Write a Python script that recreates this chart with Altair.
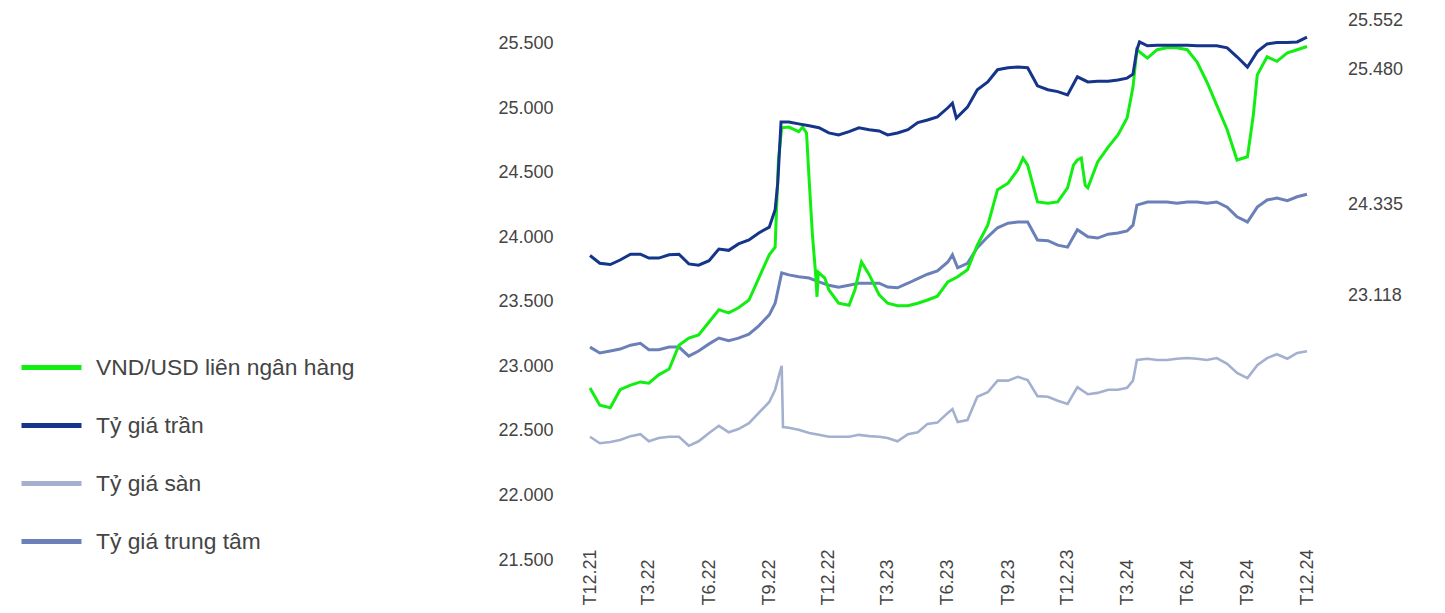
import altair as alt
import pandas as pd

# ---------------- data ----------------
SERIES = ["VND/USD liên ngân hàng", "Tỷ giá trần", "Tỷ giá sàn", "Tỷ giá trung tâm"]
COLORS = ["#12ee12", "#15358a", "#a3b0cf", "#6b80b8"]

Y_TICKS = [21500, 22000, 22500, 23000, 23500, 24000, 24500, 25000, 25500]
X_TICKS = [(2021, 12), (2022, 3), (2022, 6), (2022, 9), (2022, 12), (2023, 3), (2023, 6),
           (2023, 9), (2023, 12), (2024, 3), (2024, 6), (2024, 9), (2024, 12)]

ceil_dates = ["2021-12-01", "2021-12-16", "2022-01-01", "2022-01-16", "2022-02-01", "2022-02-16",
              "2022-03-01", "2022-03-16", "2022-04-01", "2022-04-16", "2022-05-01", "2022-05-16",
              "2022-06-01", "2022-06-16", "2022-07-01", "2022-07-16", "2022-08-01", "2022-08-16",
              "2022-09-01", "2022-09-10", "2022-09-14", "2022-09-19", "2022-10-01", "2022-10-16",
              "2022-11-01", "2022-11-16", "2022-12-01", "2022-12-16", "2023-01-01", "2023-01-16",
              "2023-02-01", "2023-02-16", "2023-03-01", "2023-03-16", "2023-04-01", "2023-04-16",
              "2023-05-01", "2023-05-16", "2023-06-01", "2023-06-08", "2023-06-14", "2023-07-01",
              "2023-07-16", "2023-08-01", "2023-08-16", "2023-09-01", "2023-09-16", "2023-10-01",
              "2023-10-16", "2023-11-01", "2023-11-16", "2023-12-01", "2023-12-16", "2024-01-01",
              "2024-01-16", "2024-02-01", "2024-02-16", "2024-03-01", "2024-03-10", "2024-03-16",
              "2024-03-20", "2024-04-01", "2024-04-16", "2024-05-01", "2024-05-16", "2024-06-01",
              "2024-06-16", "2024-07-01", "2024-07-16", "2024-08-01", "2024-08-16", "2024-09-01",
              "2024-09-16", "2024-10-01", "2024-10-16", "2024-11-01", "2024-11-16", "2024-12-01"]
ceil_values = [23860, 23800, 23790, 23825, 23870, 23870, 23840, 23840, 23865, 23870, 23795, 23785,
               23820, 23910, 23900, 23950, 23980, 24035, 24080, 24215, 24420, 24895, 24895, 24880,
               24865, 24850, 24810, 24795, 24820, 24850, 24835, 24825, 24795, 24810, 24835, 24890,
               24910, 24935, 25005, 25040, 24925, 25010, 25145, 25205, 25300, 25315, 25320, 25315,
               25175, 25145, 25130, 25105, 25245, 25205, 25210, 25210, 25220, 25235, 25265, 25455,
               25515, 25485, 25490, 25490, 25490, 25490, 25485, 25485, 25485, 25470, 25400, 25320,
               25440, 25500, 25510, 25510, 25515, 25552]

inter_dates = ["2021-12-01", "2021-12-16", "2022-01-01", "2022-01-16", "2022-02-01", "2022-02-16",
               "2022-03-01", "2022-03-16", "2022-04-01", "2022-04-16", "2022-05-01", "2022-05-16",
               "2022-06-01", "2022-06-16", "2022-07-01", "2022-07-16", "2022-08-01", "2022-08-16",
               "2022-09-01", "2022-09-10", "2022-09-15", "2022-09-20", "2022-10-01", "2022-10-16",
               "2022-10-22", "2022-10-28", "2022-11-01", "2022-11-06", "2022-11-11", "2022-11-13",
               "2022-11-15", "2022-11-25", "2022-12-01", "2022-12-16", "2023-01-01", "2023-01-10",
               "2023-01-20", "2023-02-01", "2023-02-16", "2023-03-01", "2023-03-16", "2023-04-01",
               "2023-04-16", "2023-05-01", "2023-05-16", "2023-06-01", "2023-06-16", "2023-07-01",
               "2023-07-16", "2023-08-01", "2023-08-16", "2023-09-01", "2023-09-16", "2023-09-24",
               "2023-10-01", "2023-10-16", "2023-11-01", "2023-11-16", "2023-12-01", "2023-12-10",
               "2023-12-16", "2023-12-22", "2023-12-28", "2024-01-01", "2024-01-16", "2024-02-01",
               "2024-02-16", "2024-03-01", "2024-03-10", "2024-03-16", "2024-04-01", "2024-04-16",
               "2024-05-01", "2024-05-16", "2024-06-01", "2024-06-16", "2024-07-01", "2024-07-16",
               "2024-08-01", "2024-08-16", "2024-09-01", "2024-09-10", "2024-09-16", "2024-10-01",
               "2024-10-16", "2024-11-01", "2024-11-16", "2024-12-01"]
inter_values = [22833, 22700, 22680, 22820, 22855, 22880, 22870, 22935, 22980, 23165, 23220, 23245,
                23345, 23440, 23415, 23455, 23515, 23685, 23865, 23925, 24600, 24850, 24855, 24820,
                24855, 24810, 24445, 24020, 23710, 23540, 23730, 23685, 23595, 23490, 23475, 23595,
                23810, 23710, 23555, 23490, 23470, 23470, 23490, 23515, 23545, 23655, 23695, 23750,
                23940, 24095, 24370, 24420, 24525, 24615, 24560, 24275, 24265, 24275, 24385, 24560,
                24600, 24615, 24405, 24385, 24585, 24700, 24795, 24925, 25165, 25455, 25390, 25455,
                25470, 25470, 25455, 25360, 25205, 25025, 24835, 24600, 24625, 24950, 25260, 25400,
                25365, 25430, 25455, 25480]

central_dates = ["2021-12-01", "2021-12-16", "2022-01-01", "2022-01-16", "2022-02-01", "2022-02-16",
                 "2022-03-01", "2022-03-16", "2022-04-01", "2022-04-16", "2022-05-01", "2022-05-16",
                 "2022-06-01", "2022-06-16", "2022-07-01", "2022-07-16", "2022-08-01", "2022-08-16",
                 "2022-09-01", "2022-09-10", "2022-09-16", "2022-09-20", "2022-10-01", "2022-10-16",
                 "2022-11-01", "2022-11-16", "2022-12-01", "2022-12-16", "2023-01-01", "2023-01-16",
                 "2023-02-01", "2023-02-16", "2023-03-01", "2023-03-16", "2023-04-01", "2023-04-16",
                 "2023-05-01", "2023-05-16", "2023-06-01", "2023-06-08", "2023-06-16", "2023-07-01",
                 "2023-07-16", "2023-08-01", "2023-08-16", "2023-09-01", "2023-09-16", "2023-10-01",
                 "2023-10-16", "2023-11-01", "2023-11-16", "2023-12-01", "2023-12-16", "2024-01-01",
                 "2024-01-16", "2024-02-01", "2024-02-16", "2024-03-01", "2024-03-10", "2024-03-16",
                 "2024-04-01", "2024-04-16", "2024-05-01", "2024-05-16", "2024-06-01", "2024-06-16",
                 "2024-07-01", "2024-07-16", "2024-08-01", "2024-08-16", "2024-09-01", "2024-09-16",
                 "2024-10-01", "2024-10-16", "2024-11-01", "2024-11-16", "2024-12-01"]
central_values = [23150, 23105, 23120, 23135, 23165, 23180, 23130, 23130, 23150, 23150, 23080, 23120,
                  23175, 23220, 23200, 23220, 23250, 23315, 23400, 23490, 23630, 23725, 23710, 23695,
                  23685, 23655, 23630, 23615, 23630, 23645, 23645, 23645, 23615, 23610, 23645, 23680,
                  23715, 23740, 23810, 23865, 23765, 23800, 23920, 24005, 24075, 24110, 24120, 24120,
                  23980, 23975, 23940, 23925, 24060, 24005, 23995, 24025, 24035, 24050, 24095, 24250,
                  24275, 24275, 24275, 24265, 24275, 24275, 24265, 24275, 24235, 24160, 24120, 24235,
                  24290, 24305, 24285, 24315, 24335]

floor_dates = ["2021-12-01", "2021-12-16", "2022-01-01", "2022-01-16", "2022-02-01", "2022-02-16",
               "2022-03-01", "2022-03-16", "2022-04-01", "2022-04-16", "2022-05-01", "2022-05-16",
               "2022-06-01", "2022-06-16", "2022-07-01", "2022-07-16", "2022-08-01", "2022-08-16",
               "2022-09-01", "2022-09-10", "2022-09-16", "2022-09-20", "2022-09-22", "2022-10-01",
               "2022-10-16", "2022-11-01", "2022-11-16", "2022-12-01", "2022-12-16", "2023-01-01",
               "2023-01-16", "2023-02-01", "2023-02-16", "2023-03-01", "2023-03-16", "2023-04-01",
               "2023-04-16", "2023-05-01", "2023-05-16", "2023-06-01", "2023-06-08", "2023-06-16",
               "2023-07-01", "2023-07-16", "2023-08-01", "2023-08-16", "2023-09-01", "2023-09-16",
               "2023-10-01", "2023-10-16", "2023-11-01", "2023-11-16", "2023-12-01", "2023-12-16",
               "2024-01-01", "2024-01-16", "2024-02-01", "2024-02-16", "2024-03-01", "2024-03-10",
               "2024-03-16", "2024-04-01", "2024-04-16", "2024-05-01", "2024-05-16", "2024-06-01",
               "2024-06-16", "2024-07-01", "2024-07-16", "2024-08-01", "2024-08-16", "2024-09-01",
               "2024-09-16", "2024-10-01", "2024-10-16", "2024-11-01", "2024-11-16", "2024-12-01"]
floor_values = [22455, 22405, 22415, 22430, 22460, 22475, 22420, 22445, 22455, 22455, 22385, 22420,
                22485, 22540, 22490, 22515, 22560, 22640, 22725, 22820, 22935, 23005, 22530, 22525,
                22510, 22485, 22470, 22455, 22455, 22455, 22470, 22460, 22455, 22445, 22420, 22475,
                22490, 22555, 22565, 22640, 22670, 22570, 22585, 22765, 22800, 22890, 22890, 22920,
                22895, 22770, 22765, 22735, 22710, 22840, 22785, 22795, 22820, 22820, 22835, 22890,
                23050, 23060, 23050, 23050, 23060, 23065, 23060, 23050, 23065, 23020, 22950, 22910,
                23010, 23065, 23095, 23060, 23105, 23118]


def frame(name, dates, values):
    assert len(dates) == len(values), name
    return pd.DataFrame({"date": [d + "T00:00:00" for d in dates], "value": values, "series": name})


df_inter = frame(SERIES[0], inter_dates, inter_values)
df_ceil = frame(SERIES[1], ceil_dates, ceil_values)
df_floor = frame(SERIES[2], floor_dates, floor_values)
df_central = frame(SERIES[3], central_dates, central_values)

FONT = "Liberation Sans"
TEXT_COLOR = "#444444"

x_enc = alt.X(
    "date:T",
    scale=alt.Scale(domain=[alt.DateTime(year=2021, month=12, date=1),
                            alt.DateTime(year=2024, month=12, date=1)]),
    axis=alt.Axis(
        values=[alt.DateTime(year=y, month=m, date=1) for y, m in X_TICKS],
        format="T%-m.%y", labelAngle=270, labelAlign="left", labelBaseline="middle",
        labelPadding=45, labelFlush=False, labelOverlap=False, ticks=False, tickSize=0,
        domain=False, grid=False, title=None, labelFontSize=18, labelColor=TEXT_COLOR,
        labelFont=FONT,
    ),
)
y_enc = alt.Y(
    "value:Q",
    scale=alt.Scale(domain=[21500, 25600], nice=False, zero=False),
    axis=alt.Axis(
        values=Y_TICKS, labelExpr="replace(format(datum.value, ','), ',', '.')",
        labelPadding=37, ticks=False, tickSize=0, domain=False, grid=False, title=None,
        labelFontSize=18, labelColor=TEXT_COLOR, labelFont=FONT,
    ),
)
color_enc = alt.Color(
    "series:N",
    scale=alt.Scale(domain=SERIES, range=COLORS),
    legend=alt.Legend(
        title=None, orient="none", legendX=-571, legendY=304, direction="vertical",
        symbolType="stroke", symbolSize=3600, symbolStrokeWidth=5, labelFontSize=22.8,
        labelColor=TEXT_COLOR, labelFont=FONT, labelOffset=12, rowPadding=13, padding=0,
        labelLimit=400,
    ),
)


def line(df, width):
    return alt.Chart(df).mark_line(strokeWidth=width).encode(x=x_enc, y=y_enc, color=color_enc)


def end_label(df, dy):
    last = df.tail(1)
    return (
        alt.Chart(last)
        .transform_calculate(label="replace(format(datum.value, ','), ',', '.')")
        .mark_text(align="left", baseline="middle", dx=41, dy=dy, fontSize=18,
                   color=TEXT_COLOR, font=FONT)
        .encode(x=x_enc, y=y_enc, text="label:N")
    )


chart = alt.layer(
    line(df_floor, 2.6),
    line(df_central, 3),
    line(df_inter, 3),
    line(df_ceil, 3),
    end_label(df_ceil, -16),
    end_label(df_inter, 24),
    end_label(df_central, 11),
    end_label(df_floor, -55),
).properties(
    width=717, height=529,
    autosize=alt.AutoSizeParams(type="none"),
    padding={"left": 590, "top": 31, "right": 138, "bottom": 53},
    background="white",
).configure_view(stroke=None)

chart.save("out.html", embed_options={"renderer": "svg", "actions": False})
